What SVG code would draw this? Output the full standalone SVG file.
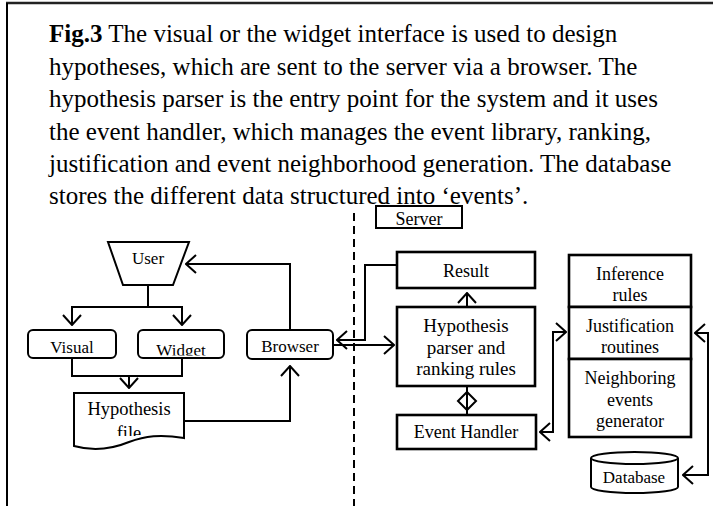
<svg xmlns="http://www.w3.org/2000/svg" width="713" height="506" viewBox="0 0 713 506">
<style>
text{font-family:'Liberation Serif','Times New Roman',serif;fill:#000}
.cap{font-size:25px}
.l{font-size:17px;text-anchor:middle}
.r{font-size:18px;text-anchor:middle}
.p{font-size:19px;text-anchor:middle}
.box{fill:#fff;stroke:#000;stroke-width:2}
.tbox{fill:#fff;stroke:#000;stroke-width:2.6}
.c{fill:none;stroke:#000;stroke-width:2}
</style>
<defs>
<marker id="a" viewBox="0 0 12 20" refX="11" refY="10" markerWidth="12" markerHeight="20" markerUnits="userSpaceOnUse" orient="auto-start-reverse">
<path d="M1,1 L11,10 L1,19" fill="none" stroke="#000" stroke-width="2"/>
</marker>
<clipPath id="cw"><rect x="138" y="330" width="86" height="25.5"/></clipPath>
<clipPath id="cf"><rect x="74" y="393" width="110" height="43"/></clipPath>
</defs>
<g id="frame">
<path d="M6,3 H713" fill="none" stroke="#222" stroke-width="2.5"/>
<path d="M7,3 V506" fill="none" stroke="#000" stroke-width="2"/>
</g>
<g id="caption" class="cap">
<text x="49" y="42"><tspan font-weight="bold">Fig.3</tspan> The visual or the widget interface is used to design</text>
<text x="49" y="74.5">hypotheses, which are sent to the server via a browser. The</text>
<text x="49" y="107">hypothesis parser is the entry point for the system and it uses</text>
<text x="49" y="139.5">the event handler, which manages the event library, ranking,</text>
<text x="49" y="172">justification and event neighborhood generation. The database</text>
<text x="49" y="204">stores the different data structured into ‘events’.</text>
</g>
<line x1="354" y1="213" x2="354" y2="506" stroke="#000" stroke-width="2" stroke-dasharray="8,5"/>
<g id="connectors" class="c">
<path d="M148,285 V307"/>
<path d="M72,325 V307 H182 V325" marker-start="url(#a)" marker-end="url(#a)"/>
<path d="M72,358 V376 H182 V358"/>
<path d="M129,376 V388" marker-end="url(#a)"/>
<path d="M184,421 H290 V366" marker-end="url(#a)"/>
<path d="M290,330 V264 H186" marker-end="url(#a)"/>
<path d="M397,265 H365 V340 H337" marker-end="url(#a)"/>
<path d="M333,345 H394" marker-end="url(#a)"/>
<path d="M467,307 V293" marker-end="url(#a)"/>
<path d="M467,386 V415"/>
<path d="M458,401 L467,392 L476,401 L467,410 Z"/>
<path d="M540,432 H553 V332 H566" marker-start="url(#a)" marker-end="url(#a)"/>
<path d="M695,333 H708 V475 H683" marker-start="url(#a)" marker-end="url(#a)"/>
</g>
<g id="user">
<polygon class="box" points="108,242 189,242 173,285 123,285"/>
<text class="l" x="148" y="264">User</text>
</g>
<g id="visual">
<rect class="box" x="28" y="330" width="88" height="28" rx="5"/>
<text class="l" x="72" y="353">Visual</text>
</g>
<g id="widget">
<rect class="box" x="138" y="330" width="86" height="28" rx="5"/>
<text class="l" x="181" y="356" clip-path="url(#cw)">Widget</text>
</g>
<g id="browser">
<rect class="box" x="247" y="330" width="86" height="29" rx="5"/>
<text class="l" x="290" y="352">Browser</text>
</g>
<g id="hypothesis-file">
<path class="box" d="M74,393 H184 V438 C160,434 145,436 129,442 C112,449 92,451 74,446 Z"/>
<text style="font-size:18.5px;text-anchor:middle" x="129" y="415">Hypothesis</text>
<text style="font-size:18.5px;text-anchor:middle" x="129" y="439" clip-path="url(#cf)">file</text>
</g>
<g id="server">
<rect x="376" y="206" width="86" height="22" fill="#fff" stroke="#000" stroke-width="2"/>
<text class="r" x="419" y="225">Server</text>
</g>
<g id="result">
<rect class="tbox" x="397" y="252" width="138" height="36"/>
<text class="r" x="466" y="277">Result</text>
</g>
<g id="parser">
<rect class="tbox" x="397" y="307" width="138" height="79"/>
<text class="p" x="466" y="332">Hypothesis</text>
<text class="p" x="466" y="354">parser and</text>
<text class="p" x="466" y="375">ranking rules</text>
</g>
<g id="event-handler">
<rect class="tbox" x="397" y="415" width="139" height="34"/>
<text class="r" x="466" y="438">Event Handler</text>
</g>
<g id="inference">
<rect class="tbox" x="569" y="255" width="122" height="52"/>
<text class="r" x="630" y="280">Inference</text>
<text class="r" x="630" y="301">rules</text>
</g>
<g id="justification">
<rect class="tbox" x="569" y="307" width="122" height="52"/>
<text class="r" x="630" y="332">Justification</text>
<text class="r" x="630" y="353">routines</text>
</g>
<g id="neighboring">
<rect class="tbox" x="569" y="359" width="122" height="78"/>
<text class="r" x="630" y="384">Neighboring</text>
<text class="r" x="630" y="406">events</text>
<text class="r" x="630" y="427">generator</text>
</g>
<g id="database">
<path d="M591,458 V487 A43.5,6 0 0 0 678,487 V458" fill="#fff" stroke="#000" stroke-width="2"/>
<ellipse cx="634.5" cy="458" rx="43.5" ry="6" fill="#fff" stroke="#000" stroke-width="2"/>
<text style="font-size:17px;text-anchor:middle" x="634" y="483">Database</text>
</g>
</svg>
